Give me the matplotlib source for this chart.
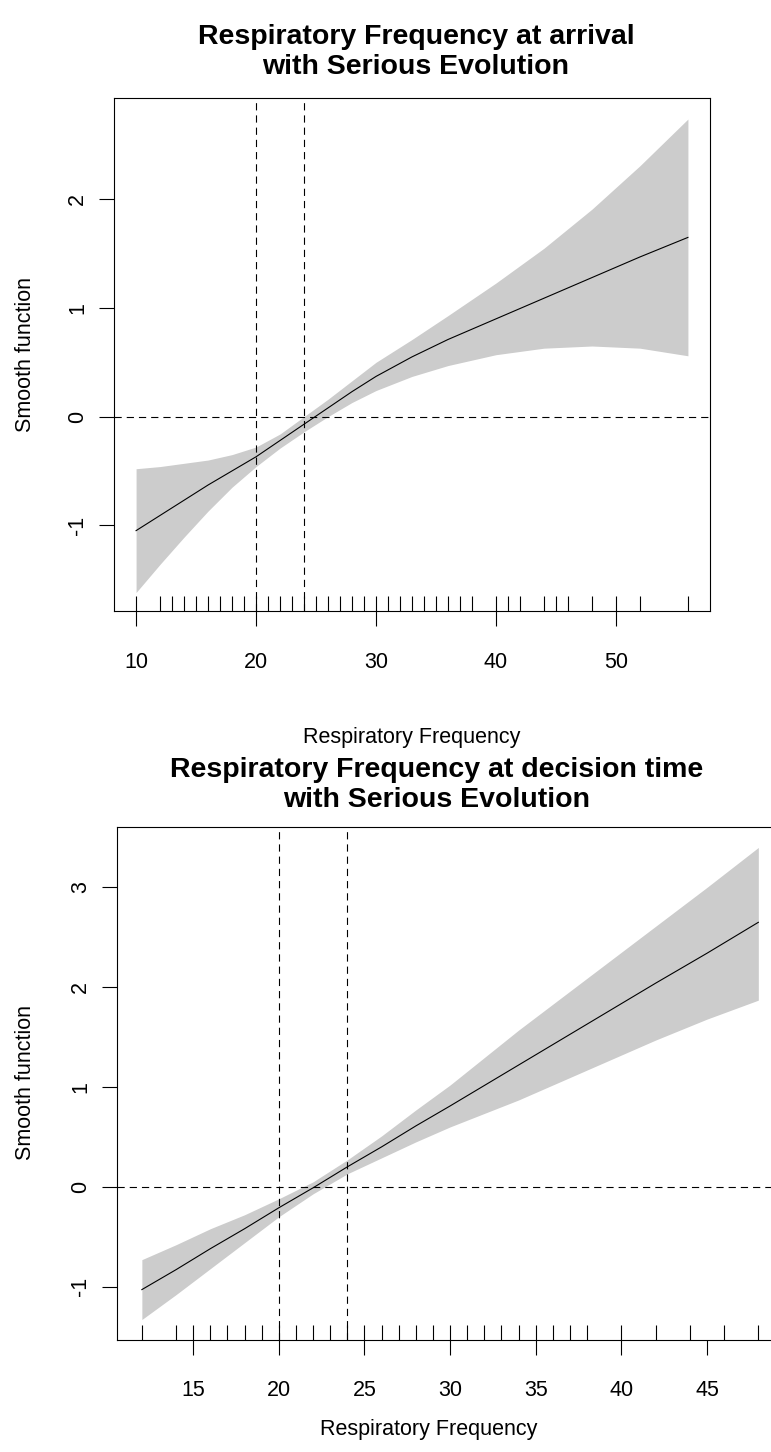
import matplotlib
matplotlib.use('Agg')
import matplotlib.pyplot as plt

plt.rcParams.update({
    'font.family': ['Liberation Sans', 'DejaVu Sans'],
    'font.size': 15.5,
    'axes.linewidth': 0.8,
    'axes.unicode_minus': False,
    'xtick.major.width': 0.8,
    'ytick.major.width': 0.8,
    'xtick.major.size': 10.8,
    'ytick.major.size': 10.8,
})

W, H = 771, 1452

# panel 1: respiratory frequency at arrival
rf_arrival = [10, 12, 14, 16, 18, 20, 22, 24, 26, 28, 30, 33, 36, 40, 44, 48, 52, 56]
fit_arrival = [-1.05, -0.91, -0.77, -0.63, -0.50, -0.37, -0.22, -0.07, 0.08, 0.23,
               0.37, 0.55, 0.71, 0.90, 1.09, 1.28, 1.47, 1.65]
upper_arrival = [-0.48, -0.46, -0.43, -0.40, -0.35, -0.28, -0.16, 0.00, 0.16, 0.33,
                 0.50, 0.71, 0.93, 1.23, 1.55, 1.91, 2.31, 2.74]
lower_arrival = [-1.62, -1.36, -1.11, -0.87, -0.65, -0.46, -0.29, -0.14, 0.00, 0.13,
                 0.24, 0.37, 0.47, 0.57, 0.63, 0.65, 0.63, 0.56]
rug_arrival = [10] + list(range(12, 39)) + [40, 41, 42, 44, 45, 46, 48, 50, 52, 56]

# panel 2: respiratory frequency at decision time
rf_decision = [12, 14, 16, 18, 20, 22, 24, 26, 28, 30, 34, 38, 42, 45, 48]
fit_decision = [-1.03, -0.83, -0.62, -0.42, -0.21, -0.01, 0.20, 0.40, 0.61, 0.81,
                1.22, 1.63, 2.04, 2.34, 2.65]
upper_decision = [-0.73, -0.58, -0.42, -0.28, -0.12, 0.05, 0.27, 0.51, 0.77, 1.02,
                  1.57, 2.09, 2.61, 3.00, 3.40]
lower_decision = [-1.33, -1.08, -0.82, -0.56, -0.30, -0.07, 0.13, 0.29, 0.45, 0.60,
                  0.87, 1.17, 1.47, 1.68, 1.87]
rug_decision = [12] + list(range(14, 39)) + [40, 42, 44, 46, 48]

cut_points = [20, 24]


def px_box(left, top, right, bottom):
    return [left / W, 1 - bottom / H, (right - left) / W, (bottom - top) / H]


def draw_panel(ax, x, fit, upper, lower, rug, xlim, ylim, xticks, yticks, xpad):
    ax.fill_between(x, lower, upper, color='#cccccc', linewidth=0)
    ax.plot(x, fit, color='black', lw=0.8)
    ax.vlines(rug, 0, 0.03, transform=ax.get_xaxis_transform(), color='black', lw=0.8)
    for v in cut_points:
        ax.axvline(v, color='black', lw=0.8, dashes=(6.5, 4.5))
    ax.axhline(0, color='black', lw=0.8, dashes=(6.5, 4.5))

    ax.set_xlim(xlim)
    ax.set_ylim(ylim)
    ax.set_xticks(xticks)
    ax.set_yticks(yticks)
    ax.tick_params(axis='x', pad=xpad)
    ax.tick_params(axis='y', labelrotation=90, pad=8.0)
    for lab in ax.get_yticklabels():
        lab.set_va('center')


def main():
    fig = plt.figure(figsize=(W / 100, H / 100), dpi=100)

    ax1 = fig.add_axes(px_box(114, 98.4, 710, 611))
    draw_panel(ax1, rf_arrival, fit_arrival, upper_arrival, lower_arrival, rug_arrival,
               (8.16, 57.84), (-1.79, 2.93), [10, 20, 30, 40, 50], [-1, 0, 1, 2], xpad=19)

    ax2 = fig.add_axes(px_box(117.2, 827, 783, 1340))
    draw_panel(ax2, rf_decision, fit_decision, upper_decision, lower_decision, rug_decision,
               (10.56, 49.44), (-1.535, 3.605), [15, 20, 25, 30, 35, 40, 45],
               [-1, 0, 1, 2, 3], xpad=18)

    title_kw = dict(ha='center', va='center', fontweight='bold', fontsize=20.5, linespacing=1.2)
    fig.text(416 / W, 1 - 52 / H, "Respiratory Frequency at arrival\nwith Serious Evolution", **title_kw)
    fig.text(437 / W, 1 - 785 / H, "Respiratory Frequency at decision time\nwith Serious Evolution", **title_kw)

    fig.text(412 / W, 1 - 737 / H, "Respiratory Frequency", ha='center', va='center')
    fig.text(429 / W, 1 - 1429 / H, "Respiratory Frequency", ha='center', va='center')
    fig.text(26 / W, 1 - 355 / H, "Smooth function", ha='center', va='center', rotation=90)
    fig.text(26 / W, 1 - 1083 / H, "Smooth function", ha='center', va='center', rotation=90)

    fig.savefig("out.png", dpi=100)
    plt.close(fig)


if __name__ == "__main__":
    main()
